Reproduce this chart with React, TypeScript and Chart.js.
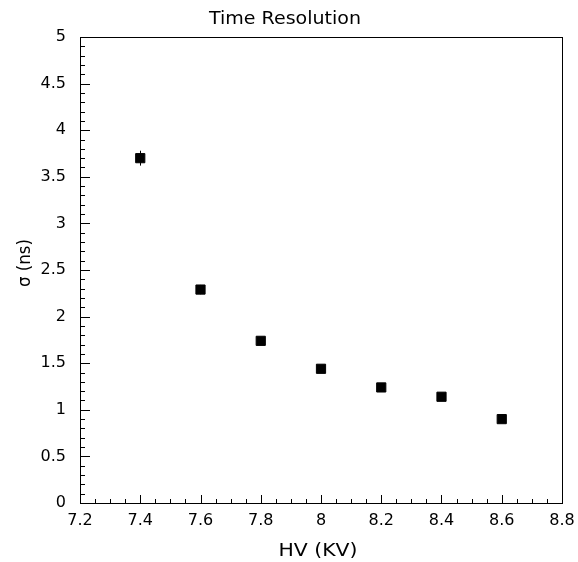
import React, { useEffect, useRef } from "react";
import { Chart, registerables } from "chart.js";

Chart.register(...registerables);

const hvValues = [7.4, 7.6, 7.8, 8.0, 8.2, 8.4, 8.6];
const sigmaValues = [3.7, 2.29, 1.74, 1.44, 1.24, 1.14, 0.9];
const sigmaErrors = [0.08, 0.05, 0.03, 0.03, 0.02, 0.02, 0.02];
const titleText = "Time Resolution";
const xTitle = "HV (KV)";
const yTitle = "σ (ns)";
const FONT = "'DejaVu Sans', 'Liberation Sans', Arial, sans-serif";

function drawStretched(ctx: CanvasRenderingContext2D, text: string, cx: number, cy: number, px: number, targetW: number) {
  ctx.font = `${px}px ${FONT}`;
  const w = ctx.measureText(text).width;
  const sx = targetW > 0 ? targetW / w : 1;
  ctx.save();
  ctx.translate(cx, cy);
  ctx.scale(sx, 1);
  ctx.fillText(text, 0, 0);
  ctx.restore();
}

const rootStyle = {
  id: "rootStyle",
  beforeDatasetsDraw(chart: any) {
    const { ctx, chartArea: a, scales } = chart;
    const x = scales.x, y = scales.y;
    ctx.save();
    ctx.strokeStyle = "#000";
    ctx.lineWidth = 1;
    ctx.strokeRect(Math.round(a.left) + 0.5, Math.round(a.top) + 0.5, Math.round(a.right - a.left), Math.round(a.bottom - a.top));
    ctx.beginPath();
    for (let i = 0; i <= 32; i++) {
      const v = 7.2 + i * 0.05;
      const px = Math.round(x.getPixelForValue(v)) + 0.5;
      const len = i % 4 === 0 ? 8 : 4;
      ctx.moveTo(px, a.bottom);
      ctx.lineTo(px, a.bottom - len);
    }
    for (let i = 0; i <= 50; i++) {
      const v = i * 0.1;
      const py = Math.round(y.getPixelForValue(v)) + 0.5;
      const len = i % 5 === 0 ? 10 : 5;
      ctx.moveTo(a.left, py);
      ctx.lineTo(a.left + len, py);
    }
    ctx.stroke();
    ctx.beginPath();
    for (let i = 0; i < hvValues.length; i++) {
      const px = Math.round(x.getPixelForValue(hvValues[i])) + 0.5;
      ctx.moveTo(px, y.getPixelForValue(sigmaValues[i] + sigmaErrors[i]));
      ctx.lineTo(px, y.getPixelForValue(sigmaValues[i] - sigmaErrors[i]));
    }
    ctx.stroke();
    ctx.restore();
  },
  afterDraw(chart: any) {
    const { ctx, chartArea: a } = chart;
    ctx.save();
    ctx.fillStyle = "#000";
    ctx.textAlign = "center";
    ctx.textBaseline = "middle";
    drawStretched(ctx, titleText, 285, 20, 17, 152);
    drawStretched(ctx, xTitle, (a.left + a.right) / 2 - 3, 551, 18, 79);
    ctx.translate(26, 263);
    ctx.rotate(-Math.PI / 2);
    drawStretched(ctx, yTitle, 0, 0, 17, 48);
    ctx.restore();
  },
};

export default function App() {
  const ref = useRef<HTMLCanvasElement | null>(null);
  useEffect(() => {
    if (!ref.current) return;
    const chart = new Chart(ref.current, {
      type: "scatter",
      data: {
        datasets: [
          {
            data: hvValues.map((v, i) => ({ x: v, y: sigmaValues[i] })),
            pointStyle: "rect",
            pointRadius: 6.5,
            pointHoverRadius: 6.5,
            backgroundColor: "#000",
            borderColor: "#000",
            borderWidth: 1,
          },
        ],
      },
      options: {
        animation: false,
        responsive: false,
        layout: { padding: { left: 0, right: 16, top: 37, bottom: 0 } },
        plugins: { legend: { display: false }, tooltip: { enabled: false }, title: { display: false } },
        scales: {
          x: {
            type: "linear",
            min: 7.2,
            max: 8.8,
            grid: { display: false, drawTicks: false },
            border: { display: false },
            ticks: {
              stepSize: 0.2,
              padding: 8,
              color: "#000",
              font: { family: FONT, size: 16 },
              maxRotation: 0,
              callback: (v: any) => String(Math.round(Number(v) * 10) / 10),
            },
            afterFit: (s: any) => { s.height = 59; s.paddingLeft = 0; s.paddingRight = 0; },
          },
          y: {
            type: "linear",
            min: 0,
            max: 5,
            grid: { display: false, drawTicks: false },
            border: { display: false },
            ticks: {
              stepSize: 0.5,
              padding: 14,
              color: "#000",
              font: { family: FONT, size: 16 },
              callback: (v: any) => String(Math.round(Number(v) * 10) / 10),
            },
            afterFit: (s: any) => { s.width = 80; s.paddingTop = 0; s.paddingBottom = 0; },
          },
        },
      },
      plugins: [rootStyle],
    });
    return () => chart.destroy();
  }, []);
  return (
    <div style={{ position: "fixed", left: 0, top: 0, width: 578, height: 562, background: "#fff" }}>
      <canvas ref={ref} width={578} height={562} style={{ display: "block" }} />
    </div>
  );
}
